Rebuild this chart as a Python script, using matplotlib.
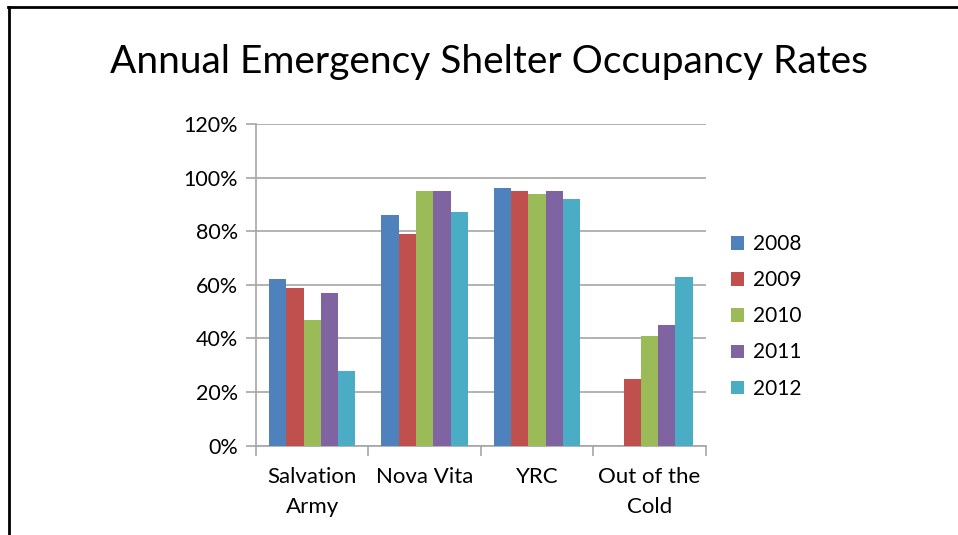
import matplotlib
matplotlib.use("Agg")
import matplotlib.pyplot as plt
import numpy as np
from matplotlib.lines import Line2D

categories = ["Salvation\nArmy", "Nova Vita", "YRC", "Out of the\nCold"]
years = ["2008", "2009", "2010", "2011", "2012"]
v2008 = [62, 86, 96, np.nan]
v2009 = [59, 79, 95, 25]
v2010 = [47, 95, 94, 41]
v2011 = [57, 95, 95, 45]
v2012 = [28, 87, 92, 63]
series = [v2008, v2009, v2010, v2011, v2012]
colors = ["#4F81BD", "#C0504D", "#9BBB59", "#8064A2", "#4BACC6"]
yticks = [0, 20, 40, 60, 80, 100, 120]

plt.rcParams['font.family'] = ['Lato', 'DejaVu Sans']

fig = plt.figure(figsize=(9.58, 5.35), dpi=100)
ax = fig.add_axes([256/958, 1-445.7/535, (705.7-256)/958, (445.7-124)/535])

x = np.arange(len(categories))
w = 1/6.5
for i, (vals, c, yr) in enumerate(zip(series, colors, years)):
    ax.bar(x + (i-2)*w, vals, width=w, color=c, label=yr, zorder=3, linewidth=0)

ax.set_xlim(-0.5, len(categories)-0.5)
ax.set_ylim(0, 120)
ax.set_yticks(yticks)
ax.set_yticklabels([f"{t}%" for t in yticks])
grid_c = "#A6A6A6"
ax.yaxis.grid(True, color=grid_c, linewidth=1.2, zorder=0)
ax.set_xticks(x)
ax.set_xticklabels(categories, linespacing=1.65)
ax.set_xticks(np.arange(-0.5, len(categories), 1), minor=True)
ax.tick_params(axis='x', which='major', length=0, pad=15, labelsize=16)
ax.tick_params(axis='x', which='minor', length=7, color=grid_c, width=1.2)
ax.tick_params(axis='y', length=7, color=grid_c, width=1.2, labelsize=15.5, pad=6)
for s in ['top', 'right']:
    ax.spines[s].set_visible(False)
for s in ['left', 'bottom']:
    ax.spines[s].set_color(grid_c)
    ax.spines[s].set_linewidth(1.2)

leg = fig.legend(loc='upper left', bbox_to_anchor=(723/958, 1-226/535), frameon=False,
                 fontsize=15, handlelength=0.6, handleheight=0.6, handletextpad=0.45,
                 labelspacing=0.77, borderaxespad=0)

fig.text(489/958, 1-62/535, "Annual Emergency Shelter Occupancy Rates", ha='center', va='center', fontsize=28)

fig.add_artist(Line2D([8.5/958, 8.5/958], [0, 1-6.5/535], transform=fig.transFigure, color='black', linewidth=2))
fig.add_artist(Line2D([8/958, 1], [1-6.5/535, 1-6.5/535], transform=fig.transFigure, color='black', linewidth=2))

fig.savefig("out.png", dpi=100, facecolor='white')
